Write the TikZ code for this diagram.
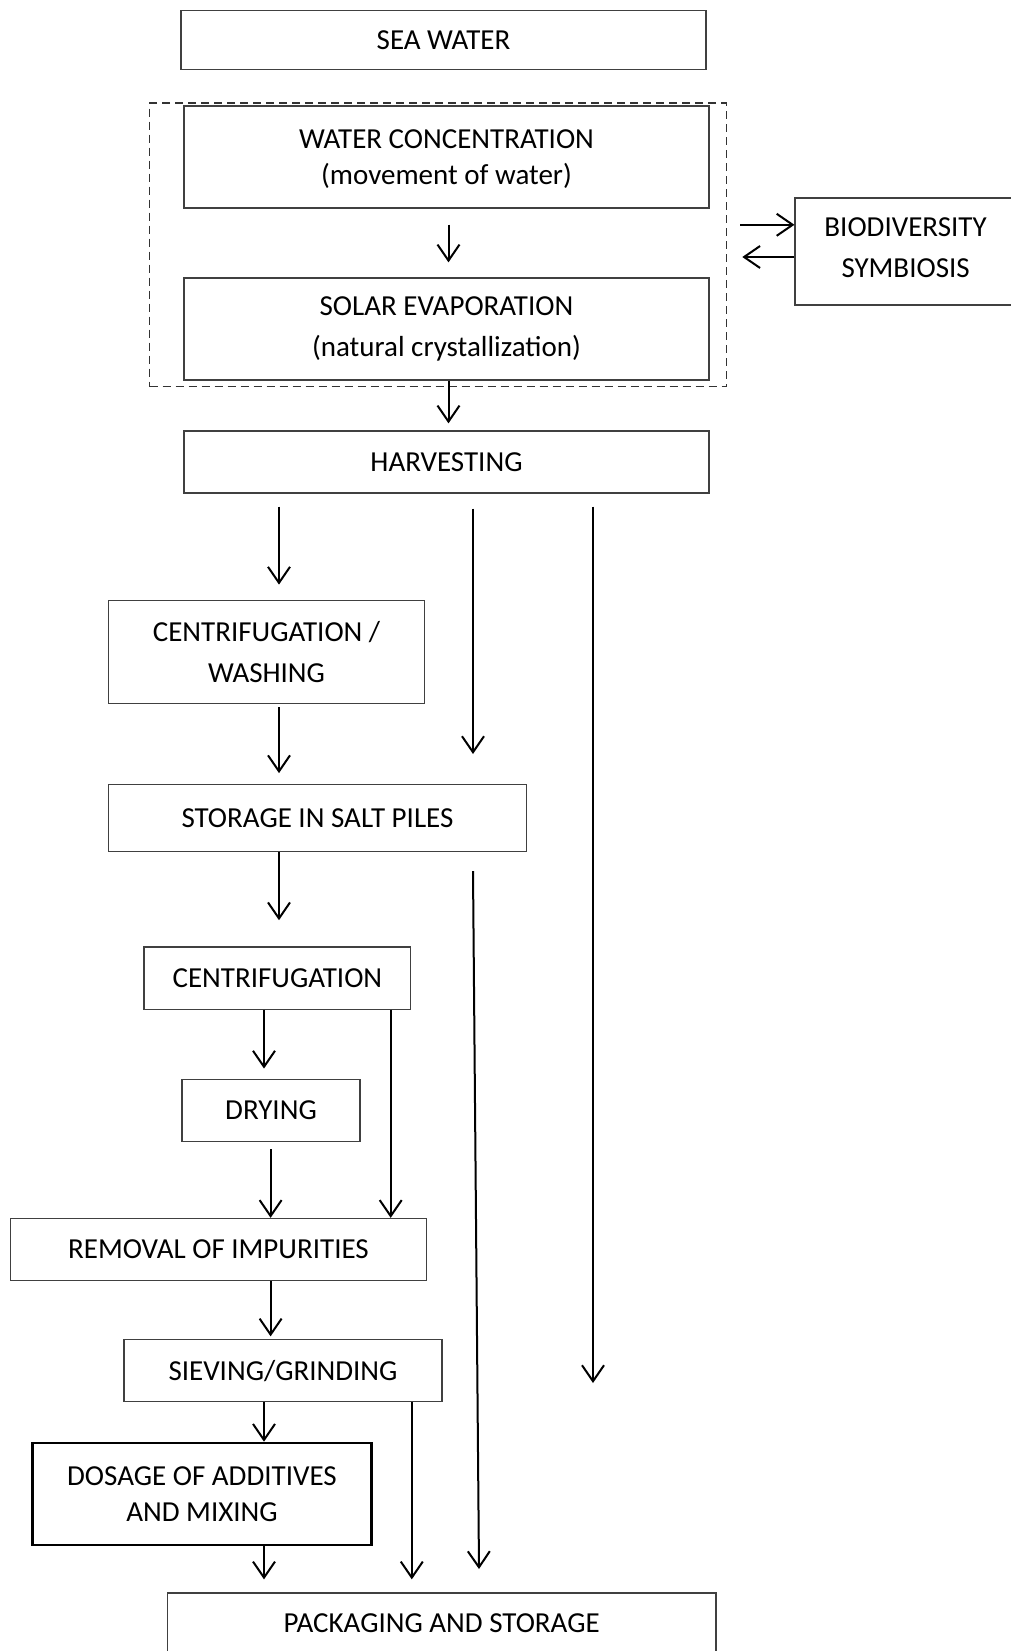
\documentclass[tikz,border=0pt]{standalone}
\usepackage{fontspec}
\setmainfont{Carlito}
\usetikzlibrary{arrows.meta}

\begin{document}
\begin{tikzpicture}[x=1pt,y=-1pt,
    box/.style={draw=black!75, line width=1.3pt, inner sep=0pt, align=center,
      font=\fontsize{29}{36}\selectfont},
    arr/.style={line width=2pt, -{Straight Barb[length=16pt,width=22pt]}}]
  \useasboundingbox (0,0) rectangle (1011,1651);
  % columns for the vertical connectors
  \coordinate (xa) at (279,0);
  \coordinate (xd) at (264,0);
  \coordinate (xe) at (390.7,0);
  \coordinate (xf) at (270.6,0);
  \coordinate (xg) at (411.8,0);
  \coordinate (xi) at (448.5,0);
  % free ends
  \coordinate (e1) at (473,754);
  \coordinate (e2) at (593,1383);
  \coordinate (s3) at (473,871);
  \coordinate (e3) at (479,1569);

  % boxes
  \node at (443.5,40) (sea) [box, minimum width=525pt, minimum height=59pt] {SEA WATER};
  \node at (438,244.8) (grp) [draw=black!80, line width=1.6pt, dash pattern=on 8pt off 5pt,
    minimum width=577pt, minimum height=283.5pt] {};
  \node at (446.5,157) (conc) [box, minimum width=525pt, minimum height=102pt, text depth=0pt] {WATER CONCENTRATION\\(movement of water)};
  \node at (446.5,329) (evap) [box, minimum width=525pt, minimum height=102pt] {SOLAR EVAPORATION\\[5pt](natural crystallization)};
  \node at (905.6,251.5) (bio) [box, minimum width=221pt, minimum height=107pt, text depth=7pt] {BIODIVERSITY\\[5pt]SYMBIOSIS};
  \node at (446.5,462) (harv) [box, minimum width=525pt, minimum height=62pt] {HARVESTING};
  \node at (266.5,652) (cw) [box, minimum width=316pt, minimum height=103.5pt] {CENTRIFUGATION /\\[5pt]WASHING};
  \node at (317.5,818) (stor) [box, minimum width=418pt, minimum height=66.5pt] {STORAGE IN SALT PILES};
  \node at (277.4,978) (cent) [box, minimum width=266.7pt, minimum height=62.3pt] {CENTRIFUGATION};
  \node at (271,1110.5) (dry) [box, minimum width=178pt, minimum height=62.6pt] {DRYING};
  \node at (218.5,1249.5) (rem) [box, minimum width=416pt, minimum height=62pt] {REMOVAL OF IMPURITIES};
  \node at (283,1370.6) (sieve) [box, minimum width=318pt, minimum height=62pt] {SIEVING/GRINDING};
  \node at (202,1494) (dose) [box, draw=black, line width=2.6pt, minimum width=339pt, minimum height=102pt] {DOSAGE OF ADDITIVES\\AND MIXING};
  \node at (441.7,1623) (pack) [box, minimum width=548.6pt, minimum height=60pt] {PACKAGING AND STORAGE};

  % connectors
  \draw[arr, shorten <=16pt, shorten >=15pt] (conc.south -| xi) -- (evap.north -| xi);
  \draw[arr, shorten >=7pt] (evap.south -| xi) -- (harv.north -| xi);
  \draw[arr, shorten <=13pt] ([yshift=20pt]grp.east) -- ([yshift=20pt]grp.east -| bio.west);
  \draw[arr, shorten >=15pt] ([yshift=-5.5pt]bio.west) -- ([yshift=-5.5pt]bio.west -| grp.east);
  \draw[arr, shorten <=13pt, shorten >=15pt] (harv.south -| xa) -- (cw.north -| xa);
  \draw[arr, shorten <=15pt] (harv.south -| e1) -- (e1);
  \draw[arr, shorten <=13pt] (harv.south -| e2) -- (e2);
  \draw[arr, shorten <=3pt, shorten >=11pt] (cw.south -| xa) -- (stor.north -| xa);
  \draw[arr, shorten >=26pt] (stor.south -| xa) -- (cent.north -| xa);
  \draw[arr] (s3) -- (e3);
  \draw[arr, shorten >=10pt] (cent.south -| xd) -- (dry.north -| xd);
  \draw[arr] (cent.south -| xe) -- (rem.north -| xe);
  \draw[arr, shorten <=7pt] (dry.south -| xf) -- (rem.north -| xf);
  \draw[arr, shorten >=2.6pt] (rem.south -| xf) -- (sieve.north -| xf);
  \draw[arr] (sieve.south -| xd) -- (dose.north -| xd);
  \draw[arr, shorten >=13pt] (sieve.south -| xg) -- (pack.north -| xg);
  \draw[arr, shorten >=13pt] (dose.south -| xd) -- (pack.north -| xd);
\end{tikzpicture}
\end{document}
